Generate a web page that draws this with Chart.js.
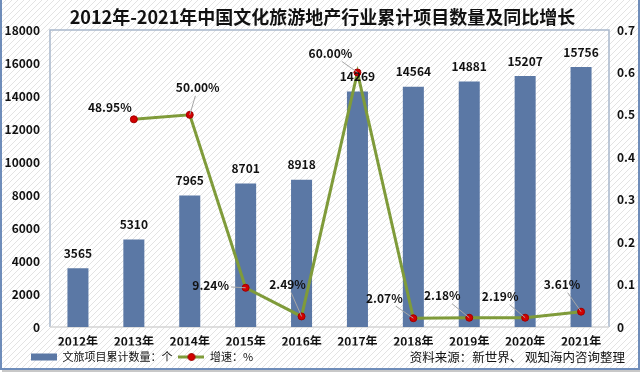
<!DOCTYPE html>
<html>
<head>
<meta charset="utf-8">
<script src="https://cdn.jsdelivr.net/npm/chart.js@4/dist/chart.umd.min.js"></script>
<style>
html,body{margin:0;padding:0;background:#fff;}
#wrap{width:640px;height:380px;position:relative;}
</style>
</head>
<body>
<div id="wrap"><canvas id="c" width="640" height="380"></canvas></div>
<script>
// ---- data ----
const titleText = '2012年-2021年中国文化旅游地产行业累计项目数量及同比增长';
const categories = ['2012年','2013年','2014年','2015年','2016年','2017年','2018年','2019年','2020年','2021年'];
const projectCounts = [3565, 5310, 7965, 8701, 8918, 14269, 14564, 14881, 15207, 15756];
const growthRates = [null, 0.4895, 0.5000, 0.0924, 0.0249, 0.6000, 0.0207, 0.0218, 0.0219, 0.0361];
const barLegend = '文旅项目累计数量：个';
const lineLegend = '增速：%';
const sourceText = '资料来源：新世界、 观知海内咨询整理';

// ---- label placement (style) ----
const growthLabelOffsets = [null, [-24,-12], [8,-27], [-35,-2], [-14,-32], [-27,-19], [-29,-20], [-27,-22], [-25,-21], [-19,-27]];
const growthLeader = [false, false, true, true, true, true, true, true, true, true];

const FONT = '"Noto Sans CJK SC", "Noto Sans", sans-serif';
const BAR_COLOR = '#5b78a5';
const LINE_COLOR = '#7f9b3a';
const POINT_COLOR = '#d40000';

// legend icon for line series
const lineIcon = document.createElement('canvas');
lineIcon.width = 26; lineIcon.height = 10;
(function(){
  const g = lineIcon.getContext('2d');
  g.strokeStyle = LINE_COLOR; g.lineWidth = 3;
  g.beginPath(); g.moveTo(0,5); g.lineTo(26,5); g.stroke();
  g.fillStyle = POINT_COLOR; g.strokeStyle = '#a00000'; g.lineWidth = 1;
  g.beginPath(); g.arc(13,5,3.5,0,Math.PI*2); g.fill(); g.stroke();
})();

// hatch pattern
function makeHatch(ctx){
  const p = document.createElement('canvas');
  p.width = 6; p.height = 6;
  const g = p.getContext('2d');
  g.fillStyle = '#ffffff'; g.fillRect(0,0,6,6);
  g.strokeStyle = '#e3e3e3'; g.lineWidth = 1;
  g.beginPath();
  g.moveTo(0,6); g.lineTo(6,0);
  g.moveTo(-1,1); g.lineTo(1,-1);
  g.moveTo(5,7); g.lineTo(7,5);
  g.stroke();
  return ctx.createPattern(p,'repeat');
}

const backgroundPlugin = {
  id: 'bg',
  afterLayout(chart){
    // shift legend to line up with reference
    if (chart.legend) { chart.legend.left += 20; chart.legend.right += 20; }
  },
  beforeDraw(chart){
    const ctx = chart.ctx;
    ctx.save();
    ctx.fillStyle = '#ffffff';
    ctx.fillRect(0,0,640,380);
    ctx.fillStyle = makeHatch(ctx);
    ctx.fillRect(0,0,640,370);
    // frame
    ctx.fillStyle = '#c8c8c8';
    ctx.fillRect(2,370,638,2);
    ctx.strokeStyle = '#6f8dba';
    ctx.lineWidth = 2;
    ctx.beginPath();
    ctx.moveTo(1,0); ctx.lineTo(1,369); ctx.lineTo(639,369); ctx.lineTo(639,0);
    ctx.stroke();
    ctx.restore();
  },
  beforeDatasetsDraw(chart){
    const {ctx, chartArea:a} = chart;
    ctx.save();
    ctx.strokeStyle = '#a9b8cc';
    ctx.lineWidth = 1.5;
    ctx.beginPath();
    ctx.moveTo(a.left, a.bottom); ctx.lineTo(a.left, a.top); ctx.lineTo(a.right, a.top); ctx.lineTo(a.right, a.bottom);
    ctx.stroke();
    ctx.strokeStyle = '#d4d4d4';
    ctx.lineWidth = 1.5;
    ctx.beginPath(); ctx.moveTo(a.left, a.bottom); ctx.lineTo(a.right, a.bottom); ctx.stroke();
    ctx.restore();
  }
};

const labelPlugin = {
  id: 'labels',
  afterDatasetsDraw(chart){
    const ctx = chart.ctx;
    ctx.save();
    ctx.font = 'bold 12px ' + FONT;
    ctx.fillStyle = '#111';
    ctx.textAlign = 'center';
    ctx.textBaseline = 'middle';
    // bar labels
    const barMeta = chart.getDatasetMeta(0);
    barMeta.data.forEach((el, i) => {
      ctx.fillText(String(projectCounts[i]), el.x, el.y - 15);
    });
    // line labels
    const lineMeta = chart.getDatasetMeta(1);
    lineMeta.data.forEach((el, i) => {
      const v = growthRates[i];
      if (v === null || v === undefined) return;
      const off = growthLabelOffsets[i];
      const txt = (v*100).toFixed(2) + '%';
      const lx = el.x + off[0], ly = el.y + off[1];
      const w = ctx.measureText(txt).width;
      if (growthLeader[i]) {
        const hw = w/2 + 2, hh = 8;
        const dx = el.x - lx, dy = el.y - ly;
        let t = 1;
        if (dx !== 0) t = Math.min(t, hw/Math.abs(dx));
        if (dy !== 0) t = Math.min(t, hh/Math.abs(dy));
        const sx = lx + dx*t, sy = ly + dy*t;
        ctx.strokeStyle = '#a6a6a6';
        ctx.lineWidth = 1;
        ctx.beginPath(); ctx.moveTo(sx, sy); ctx.lineTo(el.x, el.y); ctx.stroke();
      }
      ctx.fillStyle = '#111';
      ctx.fillText(txt, lx, ly);
    });
    ctx.restore();
  },
  afterDraw(chart){
    const ctx = chart.ctx;
    ctx.save();
    ctx.font = '12.5px ' + FONT;
    ctx.fillStyle = '#111';
    ctx.textAlign = 'right';
    ctx.textBaseline = 'middle';
    ctx.fillText(sourceText, 625, 357);
    ctx.restore();
  }
};

new Chart(document.getElementById('c'), {
  data: {
    labels: categories,
    datasets: [
      {
        type: 'bar',
        label: barLegend,
        data: projectCounts,
        backgroundColor: BAR_COLOR,
        borderWidth: 0,
        barPercentage: 0.376,
        categoryPercentage: 1,
        yAxisID: 'y',
        order: 2
      },
      {
        type: 'line',
        label: lineLegend,
        data: growthRates,
        borderColor: LINE_COLOR,
        borderWidth: 3,
        pointRadius: 3.5,
        pointBackgroundColor: POINT_COLOR,
        pointBorderColor: '#a00000',
        pointBorderWidth: 1,
        tension: 0,
        spanGaps: false,
        yAxisID: 'y1',
        order: 1
      }
    ]
  },
  options: {
    responsive: false,
    animation: false,
    devicePixelRatio: 1,
    layout: { padding: { left: 5, right: 0, top: 0, bottom: 7.5 } },
    plugins: {
      tooltip: { enabled: false },
      title: {
        display: true,
        text: titleText,
        color: '#111',
        font: { family: FONT, size: 18, weight: 'bold' },
        padding: { top: 6, bottom: 2.4 }
      },
      legend: {
        display: true,
        position: 'bottom',
        align: 'start',
        labels: {
          usePointStyle: true,
          pointStyleWidth: 26,
          boxHeight: 7,
          padding: 6,
          color: '#111',
          font: { family: FONT, size: 11 },
          generateLabels(chart){
            return [
              { text: barLegend, fillStyle: BAR_COLOR, strokeStyle: BAR_COLOR, lineWidth: 0, pointStyle: 'rect', datasetIndex: 0, fontColor: '#111' },
              { text: lineLegend, fillStyle: LINE_COLOR, strokeStyle: LINE_COLOR, lineWidth: 0, pointStyle: lineIcon, datasetIndex: 1, fontColor: '#111' }
            ];
          }
        }
      }
    },
    scales: {
      x: {
        grid: { display: false, drawTicks: false },
        border: { display: false },
        ticks: { color: '#111', padding: 7, maxRotation: 0, font: { family: FONT, size: 12, weight: 'bold' } },
        afterFit(s){ s.height = 18.5; }
      },
      y: {
        position: 'left',
        min: 0, max: 18000,
        grid: { display: false, drawTicks: false },
        border: { display: false },
        ticks: { stepSize: 2000, color: '#111', padding: 10, font: { family: FONT, size: 12, weight: 'bold' },
                 callback: v => String(v) },
        afterFit(s){ s.width = 45; }
      },
      y1: {
        position: 'right',
        min: 0, max: 0.7,
        grid: { display: false, drawTicks: false },
        border: { display: false },
        ticks: { stepSize: 0.1, color: '#111', padding: 8, font: { family: FONT, size: 12, weight: 'bold' },
                 callback: v => String(Math.round(v*10)/10) },
        afterFit(s){ s.width = 31; }
      }
    }
  },
  plugins: [backgroundPlugin, labelPlugin]
});
</script>
</body>
</html>
